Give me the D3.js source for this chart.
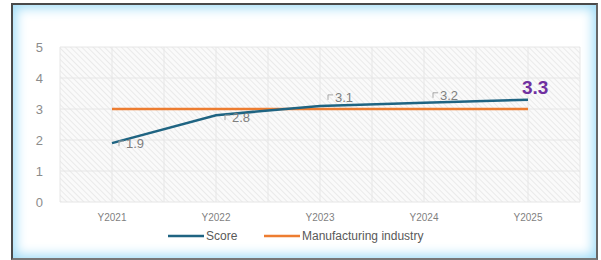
<!DOCTYPE html>
<html>
<head>
<meta charset="utf-8">
<script src="https://cdn.jsdelivr.net/npm/d3@7"></script>
<style>
  body { margin: 0; background: #fff; }
  #frame {
    position: absolute; left: 11px; top: 3px; width: 583px; height: 253px;
    border: 2px solid #4a4a4a;
    border-right-color: #666; border-bottom-color: #777;
    box-shadow: inset 0 0 12px 3px #9fdcf7;
    background: #fff;
  }
  #canvas { position: absolute; left: 0; top: 0; }
</style>
</head>
<body>
<div id="frame"></div>
<svg id="canvas" width="601" height="260"></svg>
<script>
var years = ["Y2021", "Y2022", "Y2023", "Y2024", "Y2025"];
var score = [1.9, 2.8, 3.1, 3.2, 3.3];
var industry = [3, 3, 3, 3, 3];
var yTicks = [0, 1, 2, 3, 4, 5];

var margin = {top: 47, right: 21, bottom: 57, left: 60},
    width = 601, height = 260;

var svg = d3.select("#canvas");

// hatched background
var pat = svg.append("defs").append("pattern")
    .attr("id", "hatch")
    .attr("width", 4).attr("height", 4)
    .attr("patternUnits", "userSpaceOnUse")
    .attr("patternTransform", "rotate(-45)");
pat.append("rect").attr("width", 4).attr("height", 4).attr("fill", "#fafafa");
pat.append("line").attr("x1", 0).attr("y1", 0).attr("x2", 0).attr("y2", 4)
    .attr("stroke", "#e0e0e0").attr("stroke-width", 1.2);

var x = d3.scaleBand()
    .domain(years)
    .range([margin.left, width - margin.right]);
var y = d3.scaleLinear()
    .domain([0, 5])
    .range([height - margin.bottom - 1, margin.top]);

svg.append("rect")
    .attr("x", margin.left).attr("y", margin.top)
    .attr("width", x.range()[1] - x.range()[0])
    .attr("height", y(0) - y(5))
    .attr("fill", "url(#hatch)");

// grid: vertical lines at band edges and centres
var half = x.bandwidth() / 2;
var vx = [];
years.forEach(function(d) { vx.push(x(d), x(d) + half); });
vx.push(x.range()[1]);
svg.append("g").selectAll("line").data(vx).join("line")
    .attr("x1", function(d) { return d; }).attr("x2", function(d) { return d; })
    .attr("y1", y(5)).attr("y2", y(0))
    .attr("stroke", "#e6e6e6").attr("stroke-width", 1);

svg.append("g").selectAll("line").data(yTicks).join("line")
    .attr("x1", margin.left).attr("x2", x.range()[1])
    .attr("y1", function(d) { return y(d); }).attr("y2", function(d) { return y(d); })
    .attr("stroke", "#e6e6e6").attr("stroke-width", 1);

// axes
var yAxis = svg.append("g")
    .attr("transform", "translate(" + (margin.left - 14) + ",0)")
    .call(d3.axisLeft(y).tickValues(yTicks).tickSize(0).tickFormat(d3.format("d")));
yAxis.select(".domain").remove();
yAxis.selectAll("text")
    .attr("fill", "#8c8c8c")
    .style("font", "13px 'Liberation Sans', Arial, sans-serif");

var xAxis = svg.append("g")
    .attr("transform", "translate(0," + (y(0) + 9) + ")")
    .call(d3.axisBottom(x).tickSize(0));
xAxis.select(".domain").remove();
xAxis.selectAll("text")
    .attr("fill", "#7f7f7f")
    .style("font", "10px 'Liberation Sans', Arial, sans-serif");

var cx = function(d, i) { return x(years[i]) + half; };
var line = d3.line().x(cx).y(function(d) { return y(d); });

svg.append("path").datum(industry)
    .attr("d", line)
    .attr("fill", "none").attr("stroke", "#ed7d31").attr("stroke-width", 2.5);

svg.append("path").datum(score)
    .attr("d", line)
    .attr("fill", "none").attr("stroke", "#1f6482").attr("stroke-width", 2.5);

// data labels with small leader marks
var offs = [[9, 0], [11, 2], [10, -9], [11, -8]];
var labels = svg.append("g");
score.slice(0, 4).forEach(function(v, i) {
  var px = cx(v, i), py = y(v);
  var lx = px + offs[i][0], ly = py + offs[i][1];
  labels.append("path")
    .attr("d", "M" + (lx - 2) + "," + (ly + 3) + "V" + (ly - 2) + "H" + (lx + 3))
    .attr("fill", "none").attr("stroke", "#a6a6a6").attr("stroke-width", 1);
  labels.append("text")
    .attr("x", lx + 5).attr("y", ly + 5)
    .attr("fill", "#7f7f7f")
    .style("font", "13px 'Liberation Sans', Arial, sans-serif")
    .text(v.toFixed(1));
});
labels.append("text")
    .attr("x", cx(score[4], 4) - 6).attr("y", y(score[4]) - 6)
    .attr("fill", "#7030a0")
    .style("font", "bold 19px 'Liberation Sans', Arial, sans-serif")
    .text(score[4].toFixed(1));

// legend
var legend = [
  {name: "Score", color: "#1f6482", x: 168},
  {name: "Manufacturing industry", color: "#ed7d31", x: 264}
];
var lg = svg.append("g");
legend.forEach(function(d) {
  lg.append("line")
    .attr("x1", d.x).attr("x2", d.x + 36)
    .attr("y1", 236).attr("y2", 236)
    .attr("stroke", d.color).attr("stroke-width", 2.5);
  lg.append("text")
    .attr("x", d.x + 38).attr("y", 240)
    .attr("fill", "#595959")
    .style("font", "12px 'Liberation Sans', Arial, sans-serif")
    .text(d.name);
});
</script>
</body>
</html>
